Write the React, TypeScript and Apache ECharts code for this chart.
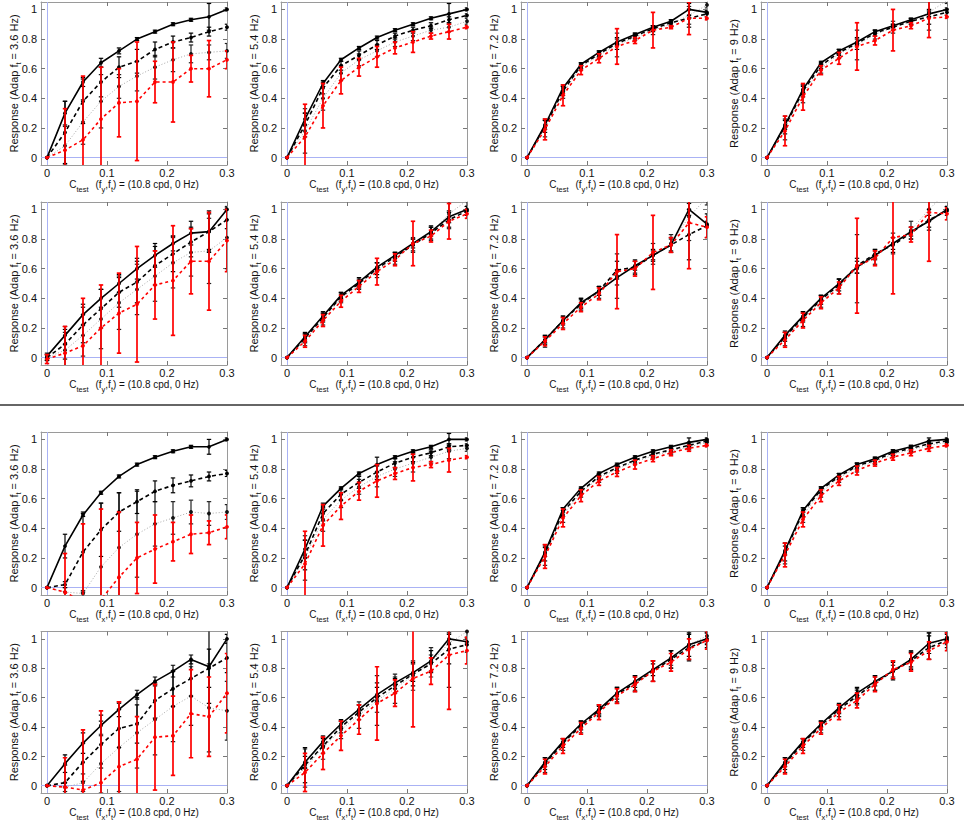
import React, { useEffect, useRef } from "react";
import * as echarts from "echarts";

// ---------- DATA ----------
const X = [0, 0.03, 0.06, 0.09, 0.12, 0.15, 0.18, 0.21, 0.24, 0.27, 0.3];
const ADAPT_FREQS = ["3.6", "5.4", "7.2", "9"];
const TEST_DIMS = ["y", "y", "x", "x"]; // per row
const X_TICKS = [0, 0.1, 0.2, 0.3];
const Y_TICKS = [0, 0.2, 0.4, 0.6, 0.8, 1];
const REF_X = 0; // reference (blue) lines
const REF_Y = 0;

// panels in row-major order (rows 1-2: f_y, rows 3-4: f_x; columns: 3.6, 5.4, 7.2, 9 Hz)
const SOLID = [
  [0, 0.30, 0.51, 0.64, 0.72, 0.80, 0.85, 0.90, 0.93, 0.95, 1.0],
  [0, 0.26, 0.50, 0.66, 0.74, 0.81, 0.86, 0.90, 0.94, 0.97, 1.0],
  [0, 0.22, 0.47, 0.63, 0.71, 0.78, 0.83, 0.88, 0.92, 1.0, 0.98],
  [0, 0.22, 0.46, 0.64, 0.72, 0.78, 0.85, 0.89, 0.93, 0.97, 1.0],
  [0.01, 0.15, 0.29, 0.40, 0.50, 0.60, 0.69, 0.77, 0.84, 0.85, 1.0],
  [0, 0.14, 0.28, 0.42, 0.51, 0.61, 0.69, 0.77, 0.85, 0.95, 1.0],
  [0, 0.12, 0.25, 0.37, 0.45, 0.54, 0.62, 0.69, 0.76, 1.0, 0.90],
  [0, 0.15, 0.28, 0.40, 0.50, 0.61, 0.69, 0.77, 0.85, 0.92, 1.0],
  [0, 0.28, 0.49, 0.64, 0.75, 0.83, 0.88, 0.92, 0.95, 0.95, 1.0],
  [0, 0.26, 0.55, 0.67, 0.77, 0.83, 0.88, 0.92, 0.95, 1.0, 1.0],
  [0, 0.24, 0.53, 0.67, 0.77, 0.83, 0.88, 0.92, 0.95, 0.98, 1.0],
  [0, 0.25, 0.52, 0.67, 0.76, 0.83, 0.87, 0.92, 0.95, 0.99, 1.0],
  [0, 0.15, 0.29, 0.41, 0.52, 0.62, 0.71, 0.78, 0.86, 0.81, 1.0],
  [0, 0.16, 0.30, 0.42, 0.52, 0.62, 0.70, 0.77, 0.85, 1.0, 0.98],
  [0, 0.16, 0.30, 0.42, 0.52, 0.63, 0.71, 0.79, 0.87, 0.96, 1.0],
  [0, 0.16, 0.30, 0.42, 0.53, 0.63, 0.71, 0.78, 0.86, 0.97, 1.0],
];
const SOLID_ERR = [
  [0, 0.08, 0.03, 0.03, 0.02, 0.01, 0.01, 0.01, 0.01, 0.09, 0.01],
  [0, 0.04, 0.02, 0.01, 0.01, 0.01, 0.01, 0.01, 0.01, 0.07, 0.01],
  [0, 0.03, 0.02, 0.01, 0.01, 0.02, 0.01, 0.01, 0.01, 0.04, 0.01],
  [0, 0.03, 0.02, 0.01, 0.01, 0.02, 0.01, 0.01, 0.01, 0.02, 0.01],
  [0.02, 0.06, 0.07, 0.06, 0.06, 0.07, 0.08, 0.05, 0.08, 0.12, 0.01],
  [0, 0.03, 0.03, 0.02, 0.03, 0.03, 0.02, 0.03, 0.03, 0.04, 0.02],
  [0, 0.02, 0.02, 0.03, 0.03, 0.05, 0.03, 0.03, 0.04, 0.04, 0.02],
  [0, 0.02, 0.03, 0.02, 0.03, 0.04, 0.03, 0.04, 0.03, 0.04, 0.02],
  [0, 0.08, 0.01, 0.01, 0.01, 0.01, 0.01, 0.01, 0.01, 0.05, 0.01],
  [0, 0.06, 0.02, 0.01, 0.01, 0.05, 0.01, 0.01, 0.01, 0.04, 0.01],
  [0, 0.03, 0.01, 0.01, 0.01, 0.01, 0.01, 0.01, 0.01, 0.03, 0.01],
  [0, 0.03, 0.01, 0.01, 0.01, 0.01, 0.01, 0.01, 0.01, 0.02, 0.01],
  [0, 0.06, 0.07, 0.07, 0.05, 0.03, 0.03, 0.04, 0.03, 0.25, 0.03],
  [0, 0.04, 0.03, 0.03, 0.03, 0.05, 0.04, 0.06, 0.07, 0.04, 0.02],
  [0, 0.03, 0.02, 0.02, 0.03, 0.04, 0.04, 0.04, 0.05, 0.08, 0.04],
  [0, 0.03, 0.02, 0.02, 0.03, 0.04, 0.03, 0.04, 0.05, 0.07, 0.03],
];
const DASHED = [
  [0, 0.17, 0.38, 0.51, 0.61, 0.65, 0.73, 0.78, 0.81, 0.85, 0.88],
  [0, 0.22, 0.47, 0.62, 0.69, 0.76, 0.82, 0.86, 0.89, 0.93, 0.96],
  [0, 0.21, 0.45, 0.62, 0.70, 0.77, 0.82, 0.87, 0.91, 0.94, 0.97],
  [0, 0.21, 0.45, 0.62, 0.71, 0.77, 0.84, 0.88, 0.92, 0.95, 0.98],
  [0, 0.09, 0.22, 0.33, 0.44, 0.51, 0.62, 0.70, 0.78, 0.85, 0.93],
  [0, 0.13, 0.27, 0.41, 0.50, 0.60, 0.68, 0.76, 0.84, 0.93, 0.99],
  [0, 0.12, 0.25, 0.36, 0.45, 0.59, 0.61, 0.69, 0.76, 0.83, 0.89],
  [0, 0.14, 0.27, 0.39, 0.49, 0.62, 0.70, 0.76, 0.84, 0.93, 0.99],
  [0, 0.02, 0.24, 0.39, 0.51, 0.58, 0.65, 0.69, 0.72, 0.75, 0.77],
  [0, 0.22, 0.50, 0.63, 0.71, 0.78, 0.84, 0.88, 0.91, 0.95, 0.96],
  [0, 0.23, 0.51, 0.65, 0.75, 0.81, 0.86, 0.90, 0.93, 0.96, 0.99],
  [0, 0.24, 0.51, 0.66, 0.75, 0.82, 0.86, 0.91, 0.94, 0.97, 0.99],
  [0, 0.02, 0.16, 0.28, 0.39, 0.42, 0.58, 0.66, 0.73, 0.80, 0.87],
  [0, 0.14, 0.27, 0.40, 0.50, 0.60, 0.68, 0.76, 0.83, 0.93, 0.96],
  [0, 0.15, 0.29, 0.41, 0.51, 0.62, 0.70, 0.78, 0.86, 0.94, 0.99],
  [0, 0.15, 0.29, 0.41, 0.52, 0.61, 0.70, 0.78, 0.85, 0.94, 0.99],
];
const DASHED_ERR = [
  [0, 0.21, 0.15, 0.10, 0.07, 0.08, 0.05, 0.04, 0.03, 0.03, 0.02],
  [0, 0.08, 0.04, 0.03, 0.03, 0.03, 0.02, 0.02, 0.02, 0.02, 0.01],
  [0, 0.04, 0.03, 0.02, 0.02, 0.04, 0.02, 0.02, 0.02, 0.06, 0.02],
  [0, 0.05, 0.04, 0.02, 0.02, 0.04, 0.02, 0.02, 0.02, 0.05, 0.02],
  [0.02, 0.10, 0.12, 0.13, 0.10, 0.14, 0.13, 0.12, 0.10, 0.14, 0.06],
  [0, 0.03, 0.03, 0.03, 0.03, 0.04, 0.03, 0.04, 0.04, 0.05, 0.03],
  [0, 0.03, 0.03, 0.03, 0.03, 0.06, 0.04, 0.04, 0.05, 0.17, 0.08],
  [0, 0.03, 0.03, 0.03, 0.04, 0.05, 0.03, 0.05, 0.04, 0.07, 0.03],
  [0, 0.02, 0.27, 0.18, 0.13, 0.08, 0.07, 0.05, 0.04, 0.03, 0.02],
  [0, 0.10, 0.05, 0.04, 0.04, 0.05, 0.03, 0.03, 0.02, 0.02, 0.01],
  [0, 0.05, 0.03, 0.02, 0.02, 0.02, 0.02, 0.02, 0.02, 0.02, 0.01],
  [0, 0.06, 0.03, 0.02, 0.02, 0.02, 0.02, 0.02, 0.02, 0.02, 0.01],
  [0, 0.12, 0.13, 0.16, 0.13, 0.13, 0.12, 0.12, 0.12, 0.13, 0.10],
  [0, 0.12, 0.05, 0.04, 0.05, 0.10, 0.05, 0.08, 0.06, 0.10, 0.05],
  [0, 0.04, 0.03, 0.03, 0.03, 0.05, 0.05, 0.07, 0.06, 0.09, 0.05],
  [0, 0.04, 0.03, 0.03, 0.03, 0.05, 0.05, 0.06, 0.06, 0.08, 0.05],
];
const DOTTED = [
  [0, 0.08, 0.24, 0.38, 0.48, 0.55, 0.61, 0.66, 0.70, 0.71, 0.72],
  [0, 0.18, 0.40, 0.57, 0.66, 0.72, 0.78, 0.82, 0.86, 0.88, 0.92],
  [0, 0.20, 0.44, 0.61, 0.69, 0.76, 0.81, 0.86, 0.90, 0.96, 1.03],
  [0, 0.20, 0.43, 0.60, 0.70, 0.76, 0.83, 0.88, 0.92, 0.98, 1.06],
  [0, 0.05, 0.15, 0.26, 0.37, 0.46, 0.55, 0.64, 0.71, 0.72, 0.81],
  [0, 0.12, 0.26, 0.40, 0.49, 0.59, 0.67, 0.76, 0.84, 0.97, 1.06],
  [0, 0.11, 0.24, 0.36, 0.44, 0.55, 0.61, 0.70, 0.77, 0.95, 1.08],
  [0, 0.13, 0.26, 0.38, 0.48, 0.60, 0.68, 0.77, 0.86, 1.0, 1.12],
  [0, -0.03, -0.04, 0.14, 0.27, 0.36, 0.43, 0.47, 0.51, 0.50, 0.51],
  [0, 0.20, 0.46, 0.59, 0.68, 0.75, 0.80, 0.84, 0.88, 0.92, 0.94],
  [0, 0.22, 0.49, 0.64, 0.74, 0.80, 0.85, 0.89, 0.92, 0.95, 0.98],
  [0, 0.23, 0.49, 0.64, 0.74, 0.81, 0.85, 0.90, 0.93, 0.96, 0.98],
  [0, -0.01, 0.02, 0.15, 0.26, 0.36, 0.45, 0.54, 0.61, 0.53, 0.51],
  [0, 0.12, 0.26, 0.38, 0.48, 0.58, 0.66, 0.75, 0.84, 0.97, 1.05],
  [0, 0.14, 0.28, 0.40, 0.51, 0.61, 0.69, 0.78, 0.86, 0.96, 1.02],
  [0, 0.14, 0.28, 0.40, 0.51, 0.60, 0.70, 0.79, 0.86, 0.95, 1.01],
];
const DOTTED_ERR = [
  [0, 0.13, 0.15, 0.18, 0.08, 0.10, 0.08, 0.08, 0.06, 0.05, 0.05],
  [0, 0.15, 0.08, 0.05, 0.04, 0.04, 0.03, 0.03, 0.02, 0.03, 0.02],
  [0, 0.06, 0.04, 0.02, 0.02, 0.08, 0.02, 0.03, 0.02, 0.06, 0.02],
  [0, 0.08, 0.06, 0.03, 0.03, 0.10, 0.03, 0.04, 0.02, 0.12, 0.02],
  [0.02, 0.12, 0.14, 0.20, 0.18, 0.17, 0.17, 0.17, 0.16, 0.22, 0.21],
  [0, 0.04, 0.04, 0.03, 0.03, 0.05, 0.04, 0.05, 0.05, 0.10, 0.04],
  [0, 0.04, 0.04, 0.04, 0.04, 0.15, 0.05, 0.07, 0.06, 0.16, 0.05],
  [0, 0.05, 0.05, 0.04, 0.05, 0.23, 0.05, 0.07, 0.06, 0.08, 0.04],
  [0, 0.03, 0.02, 0.43, 0.37, 0.29, 0.15, 0.11, 0.08, 0.08, 0.05],
  [0, 0.15, 0.08, 0.05, 0.05, 0.07, 0.05, 0.06, 0.04, 0.05, 0.02],
  [0, 0.07, 0.05, 0.03, 0.03, 0.03, 0.02, 0.02, 0.02, 0.02, 0.01],
  [0, 0.07, 0.05, 0.03, 0.03, 0.03, 0.02, 0.02, 0.02, 0.02, 0.01],
  [0, 0.03, 0.06, 0.20, 0.30, 0.24, 0.24, 0.24, 0.20, 0.30, 0.20],
  [0, 0.13, 0.08, 0.06, 0.09, 0.17, 0.10, 0.10, 0.10, 0.30, 0.08],
  [0, 0.05, 0.04, 0.04, 0.04, 0.05, 0.05, 0.07, 0.06, 0.10, 0.05],
  [0, 0.05, 0.04, 0.04, 0.04, 0.05, 0.05, 0.06, 0.06, 0.09, 0.05],
];
const RED = [
  [0, 0.05, 0.12, 0.26, 0.37, 0.38, 0.51, 0.51, 0.60, 0.60, 0.66],
  [0, 0.14, 0.35, 0.52, 0.61, 0.68, 0.74, 0.78, 0.82, 0.85, 0.88],
  [0, 0.19, 0.42, 0.59, 0.67, 0.75, 0.79, 0.86, 0.88, 0.94, 0.94],
  [0, 0.18, 0.41, 0.59, 0.67, 0.75, 0.79, 0.86, 0.89, 0.94, 0.95],
  [-0.01, 0.03, 0.08, 0.20, 0.30, 0.36, 0.49, 0.52, 0.65, 0.65, 0.79],
  [0, 0.11, 0.25, 0.38, 0.48, 0.58, 0.66, 0.77, 0.82, 0.92, 0.97],
  [0, 0.11, 0.23, 0.34, 0.43, 0.58, 0.60, 0.71, 0.76, 0.91, 0.88],
  [0, 0.12, 0.25, 0.37, 0.47, 0.62, 0.67, 0.81, 0.83, 0.98, 0.97],
  [0, -0.03, -0.10, -0.08, 0.07, 0.20, 0.26, 0.31, 0.36, 0.37, 0.41],
  [0, 0.16, 0.42, 0.55, 0.65, 0.72, 0.77, 0.81, 0.83, 0.86, 0.88],
  [0, 0.21, 0.47, 0.62, 0.72, 0.78, 0.83, 0.87, 0.91, 0.94, 0.96],
  [0, 0.22, 0.46, 0.62, 0.72, 0.79, 0.84, 0.88, 0.91, 0.94, 0.96],
  [0, -0.01, -0.03, 0.02, 0.13, 0.18, 0.33, 0.34, 0.49, 0.47, 0.63],
  [0, 0.09, 0.22, 0.34, 0.45, 0.56, 0.63, 0.73, 0.78, 0.89, 0.92],
  [0, 0.13, 0.27, 0.39, 0.50, 0.61, 0.69, 0.78, 0.84, 0.93, 0.99],
  [0, 0.13, 0.27, 0.39, 0.50, 0.58, 0.69, 0.79, 0.84, 0.92, 0.98],
];
const RED_ERR = [
  [0, 0.28, 0.43, 0.35, 0.23, 0.40, 0.14, 0.27, 0.09, 0.19, 0.06],
  [0, 0.22, 0.15, 0.09, 0.06, 0.07, 0.04, 0.07, 0.02, 0.05, 0.01],
  [0, 0.07, 0.07, 0.03, 0.03, 0.12, 0.02, 0.12, 0.01, 0.11, 0.01],
  [0, 0.10, 0.09, 0.03, 0.04, 0.16, 0.03, 0.14, 0.02, 0.13, 0.01],
  [0.03, 0.18, 0.32, 0.29, 0.27, 0.39, 0.23, 0.37, 0.22, 0.33, 0.21],
  [0, 0.04, 0.04, 0.04, 0.04, 0.09, 0.04, 0.15, 0.04, 0.12, 0.03],
  [0, 0.03, 0.04, 0.03, 0.04, 0.25, 0.05, 0.25, 0.05, 0.31, 0.07],
  [0, 0.05, 0.05, 0.04, 0.04, 0.32, 0.05, 0.38, 0.05, 0.33, 0.04],
  [0, 0.26, 0.53, 0.61, 0.44, 0.24, 0.23, 0.13, 0.13, 0.08, 0.08],
  [0, 0.22, 0.14, 0.09, 0.06, 0.11, 0.04, 0.09, 0.02, 0.08, 0.01],
  [0, 0.08, 0.06, 0.04, 0.03, 0.03, 0.03, 0.02, 0.02, 0.02, 0.01],
  [0, 0.08, 0.05, 0.04, 0.03, 0.03, 0.02, 0.02, 0.02, 0.02, 0.01],
  [0, 0.20, 0.41, 0.49, 0.44, 0.29, 0.36, 0.27, 0.30, 0.27, 0.27],
  [0, 0.13, 0.11, 0.10, 0.10, 0.25, 0.09, 0.33, 0.09, 0.37, 0.09],
  [0, 0.05, 0.05, 0.04, 0.05, 0.05, 0.05, 0.07, 0.06, 0.07, 0.06],
  [0, 0.05, 0.05, 0.04, 0.05, 0.05, 0.05, 0.06, 0.06, 0.06, 0.06],
];

// ---------- LAYOUT / STYLE ----------
const W = 964;
const H = 822;
const GRID_LEFT = [41, 281, 521, 761];
const GRID_TOP = [2, 202, 432, 631.5];
const GW = 186;
const GH = 163;
const X_MIN = -0.01;
const X_MAX = 0.3;
const Y_MIN = -0.05;
const Y_MAX = 1.05;
const FONT = "'Liberation Sans', Arial, Helvetica, sans-serif";
const AXIS_COLOR = "#9a9a9a";
const TEXT_COLOR = "#111";
const SEP_Y = 405;

const SERIES_DEFS = [
  { vals: DOTTED, errs: DOTTED_ERR, color: "#a8a8a8", mark: "#111", bar: "#222", width: 1, type: [1, 2], z: 3 },
  { vals: DASHED, errs: DASHED_ERR, color: "#000", mark: "#000", bar: "#000", width: 1.6, type: [4, 3], z: 4 },
  { vals: SOLID, errs: SOLID_ERR, color: "#000", mark: "#000", bar: "#000", width: 1.6, type: "solid", z: 5 },
  { vals: RED, errs: RED_ERR, color: "#ff0000", mark: "#ff0000", bar: "#ff0000", width: 1.6, type: [3, 3], z: 6 },
];

const richSub = {
  s: { fontSize: 7.5, fontFamily: FONT, color: TEXT_COLOR, padding: [9, 0, 0, 0] },
  sg: { fontSize: 7.5, fontFamily: FONT, color: TEXT_COLOR, padding: [9, 7, 0, 0] },
};

const snap = (v: number) => Math.round(v - 0.5) + 0.5;

function buildOption() {
  const grid: any[] = [];
  const xAxis: any[] = [];
  const yAxis: any[] = [];
  const series: any[] = [];
  const tickLine = { color: "#777", width: 1 };
  for (let r = 0; r < 4; r++) {
    for (let c = 0; c < 4; c++) {
      const i = r * 4 + c;
      grid.push({ left: GRID_LEFT[c], top: GRID_TOP[r], width: GW, height: GH, show: false });
      const axLine = { show: true, onZero: false, lineStyle: { color: AXIS_COLOR, width: 1 } };
      xAxis.push({
        gridIndex: i, type: "value", min: X_MIN, max: X_MAX, position: "bottom",
        axisLine: axLine,
        axisTick: { show: true, inside: true, length: 4, customValues: X_TICKS, lineStyle: tickLine },
        axisLabel: { show: true, customValues: X_TICKS, margin: 2, fontSize: 11, color: TEXT_COLOR, fontFamily: FONT },
        splitLine: { show: false },
        name: `C{sg|test}(f{s|${TEST_DIMS[r]}},f{s|t}) = (10.8 cpd, 0 Hz)`,
        nameLocation: "middle", nameGap: 11, nameMoveOverlap: false,
        nameTextStyle: { fontSize: 10, fontFamily: FONT, color: TEXT_COLOR, rich: richSub },
      });
      xAxis.push({
        gridIndex: i, type: "value", min: X_MIN, max: X_MAX, position: "top",
        axisLine: axLine,
        axisTick: { show: true, inside: true, length: 4, customValues: X_TICKS, lineStyle: tickLine },
        axisLabel: { show: false }, splitLine: { show: false },
      });
      yAxis.push({
        gridIndex: i, type: "value", min: Y_MIN, max: Y_MAX, position: "left",
        axisLine: axLine,
        axisTick: { show: true, inside: true, length: 4, customValues: Y_TICKS, lineStyle: tickLine },
        axisLabel: { show: true, customValues: Y_TICKS, margin: 4, fontSize: 11, color: TEXT_COLOR, fontFamily: FONT },
        splitLine: { show: false },
        name: `Response (Adap f{s|t} = ${ADAPT_FREQS[c]} Hz)`,
        nameLocation: "middle", nameGap: 19, nameMoveOverlap: false,
        nameTextStyle: { fontSize: 11, fontFamily: FONT, color: TEXT_COLOR, rich: richSub },
      });
      yAxis.push({
        gridIndex: i, type: "value", min: Y_MIN, max: Y_MAX, position: "right",
        axisLine: axLine,
        axisTick: { show: true, inside: true, length: 4, customValues: Y_TICKS, lineStyle: tickLine },
        axisLabel: { show: false }, splitLine: { show: false },
      });

      // blue reference lines at x = 0 and y = 0
      series.push({
        type: "custom",
        xAxisIndex: 2 * i, yAxisIndex: 2 * i,
        clip: true, silent: true, z: 1,
        data: [[REF_X, REF_Y]],
        encode: { x: 0, y: 1 },
        renderItem: (params: any, api: any) => {
          const rx = api.value(0);
          const ry = api.value(1);
          const a = api.coord([rx, Y_MIN]);
          const b = api.coord([rx, Y_MAX]);
          const c1 = api.coord([X_MIN, ry]);
          const c2 = api.coord([X_MAX, ry]);
          const st = { stroke: "#a9b2f4", lineWidth: 1 };
          const vx = snap(a[0]);
          const hy = snap(c1[1]);
          return {
            type: "group",
            children: [
              { type: "line", shape: { x1: vx, y1: a[1], x2: vx, y2: b[1] }, style: st },
              { type: "line", shape: { x1: c1[0], y1: hy, x2: c2[0], y2: hy }, style: st },
            ],
          };
        },
      });

      SERIES_DEFS.forEach((d, k) => {
        const vals = d.vals[i];
        const errs = d.errs[i];
        series.push({
          type: "line",
          xAxisIndex: 2 * i, yAxisIndex: 2 * i,
          data: X.map((x, j) => [x, vals[j]]),
          symbol: "circle", symbolSize: 3.8, showSymbol: true,
          itemStyle: { color: d.mark },
          lineStyle: { color: d.color, width: d.width, type: d.type },
          clip: true, silent: true, z: d.z,
        });
        series.push({
          type: "custom",
          xAxisIndex: 2 * i, yAxisIndex: 2 * i,
          clip: true, silent: true, z: d.z,
          data: X.map((x, j) => [x, vals[j], errs[j]]),
          encode: { x: 0, y: 1 },
          renderItem: (params: any, api: any) => {
            const x = api.value(0);
            const y = api.value(1);
            const e = api.value(2);
            if (!e) return { type: "group", children: [] };
            const top = api.coord([x, y + e]);
            const bot = api.coord([x, y - e]);
            const hw = 2.2;
            const st = { stroke: d.bar, lineWidth: k === 3 ? 1.7 : 1.2 };
            return {
              type: "group",
              children: [
                { type: "line", shape: { x1: top[0], y1: top[1], x2: bot[0], y2: bot[1] }, style: st },
                { type: "line", shape: { x1: top[0] - hw, y1: top[1], x2: top[0] + hw, y2: top[1] }, style: st },
                { type: "line", shape: { x1: bot[0] - hw, y1: bot[1], x2: bot[0] + hw, y2: bot[1] }, style: st },
              ],
            };
          },
        });
      });
    }
  }
  return {
    animation: false,
    backgroundColor: "#fff",
    grid, xAxis, yAxis, series,
    graphic: [
      { type: "line", shape: { x1: 0, y1: SEP_Y, x2: W, y2: SEP_Y }, style: { stroke: "#333", lineWidth: 1.5 } },
    ],
  };
}

export default function App() {
  const ref = useRef<HTMLDivElement>(null);
  useEffect(() => {
    document.body.style.margin = "0";
    if (!ref.current) return;
    const chart = echarts.init(ref.current, undefined, { renderer: "svg" });
    chart.setOption(buildOption() as any);
    return () => chart.dispose();
  }, []);
  return <div ref={ref} style={{ width: W, height: H }} />;
}
